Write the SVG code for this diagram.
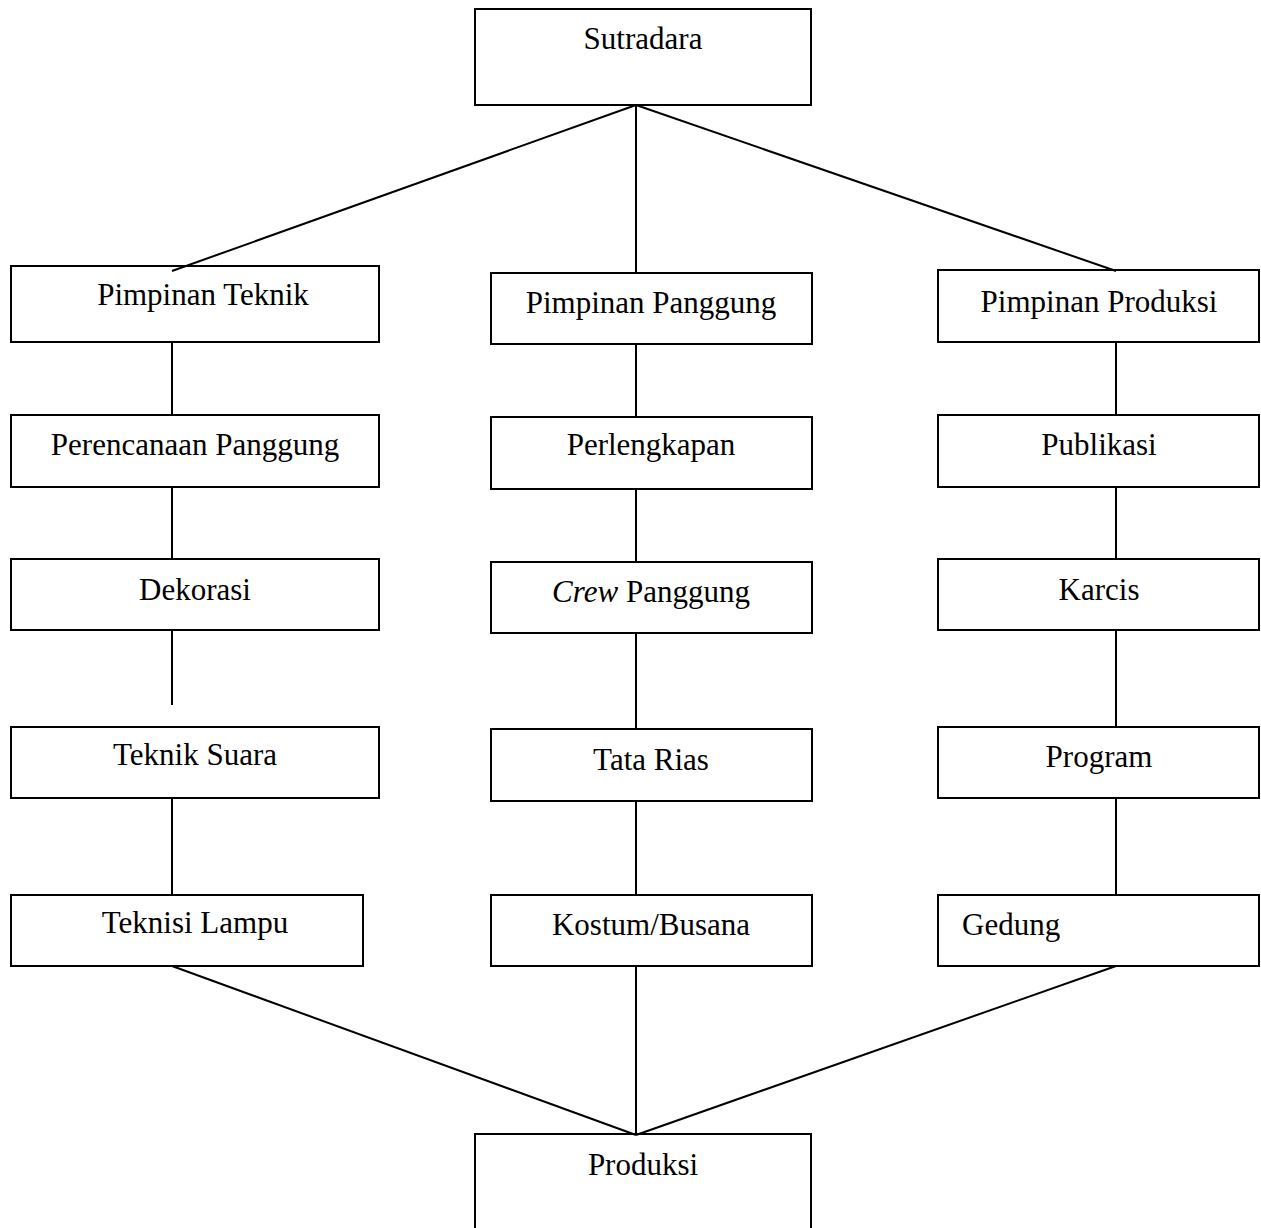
<svg xmlns="http://www.w3.org/2000/svg" width="1261" height="1228" viewBox="0 0 1261 1228">
<style>
.box{fill:#fff;stroke:#000;stroke-width:2}
line{stroke:#000;stroke-width:2}
text{font-family:"Liberation Serif","Times New Roman",serif;font-size:31px;fill:#000;text-anchor:middle}
</style>
<rect width="1261" height="1228" fill="#fff"/>
<g id="connectors">
<line x1="636" y1="105" x2="172" y2="271"/>
<line x1="636" y1="105" x2="636" y2="273"/>
<line x1="636" y1="105" x2="1116" y2="271"/>
<line x1="172" y1="342" x2="172" y2="417"/>
<line x1="172" y1="487" x2="172" y2="561"/>
<line x1="172" y1="630" x2="172" y2="705"/>
<line x1="172" y1="798" x2="172" y2="896"/>
<line x1="636" y1="344" x2="636" y2="418"/>
<line x1="636" y1="489" x2="636" y2="563"/>
<line x1="636" y1="633" x2="636" y2="730"/>
<line x1="636" y1="801" x2="636" y2="896"/>
<line x1="1116" y1="342" x2="1116" y2="416"/>
<line x1="1116" y1="487" x2="1116" y2="561"/>
<line x1="1116" y1="630" x2="1116" y2="728"/>
<line x1="1116" y1="798" x2="1116" y2="896"/>
<line x1="172" y1="966" x2="636" y2="1135"/>
<line x1="636" y1="966" x2="636" y2="1135"/>
<line x1="1116" y1="966" x2="636" y2="1135"/>
</g>
<g id="sutradara"><rect class="box" x="475" y="9" width="336" height="96" style="fill:none"/><text x="643" y="49">Sutradara</text></g>
<g id="pimpinan-teknik"><rect class="box" x="11" y="266" width="368" height="76" style="fill:none"/><text x="203" y="305">Pimpinan Teknik</text></g>
<g id="perencanaan-panggung"><rect class="box" x="11" y="415" width="368" height="72"/><text x="195" y="455">Perencanaan Panggung</text></g>
<g id="dekorasi"><rect class="box" x="11" y="559" width="368" height="71"/><text x="195" y="600">Dekorasi</text></g>
<g id="teknik-suara"><rect class="box" x="11" y="727" width="368" height="71"/><text x="195" y="765">Teknik Suara</text></g>
<g id="teknisi-lampu"><rect class="box" x="11" y="895" width="352" height="71"/><text x="195" y="933">Teknisi Lampu</text></g>
<g id="pimpinan-panggung"><rect class="box" x="491" y="273" width="321" height="71"/><text x="651" y="313">Pimpinan Panggung</text></g>
<g id="perlengkapan"><rect class="box" x="491" y="417" width="321" height="72"/><text x="651" y="455">Perlengkapan</text></g>
<g id="crew-panggung"><rect class="box" x="491" y="562" width="321" height="71"/><text x="651" y="602"><tspan font-style="italic">Crew</tspan> Panggung</text></g>
<g id="tata-rias"><rect class="box" x="491" y="729" width="321" height="72"/><text x="651" y="770">Tata Rias</text></g>
<g id="kostum-busana"><rect class="box" x="491" y="895" width="321" height="71"/><text x="651" y="935">Kostum/Busana</text></g>
<g id="pimpinan-produksi"><rect class="box" x="938" y="270" width="321" height="72" style="fill:none"/><text x="1099" y="312">Pimpinan Produksi</text></g>
<g id="publikasi"><rect class="box" x="938" y="415" width="321" height="72"/><text x="1099" y="455">Publikasi</text></g>
<g id="karcis"><rect class="box" x="938" y="559" width="321" height="71"/><text x="1099" y="600">Karcis</text></g>
<g id="program"><rect class="box" x="938" y="727" width="321" height="71"/><text x="1099" y="767">Program</text></g>
<g id="gedung"><rect class="box" x="938" y="895" width="321" height="71"/><text x="962" y="935" style="text-anchor:start">Gedung</text></g>
<g id="produksi"><rect class="box" x="475" y="1134" width="336" height="110" style="fill:none"/><text x="643" y="1175">Produksi</text></g>
</svg>
